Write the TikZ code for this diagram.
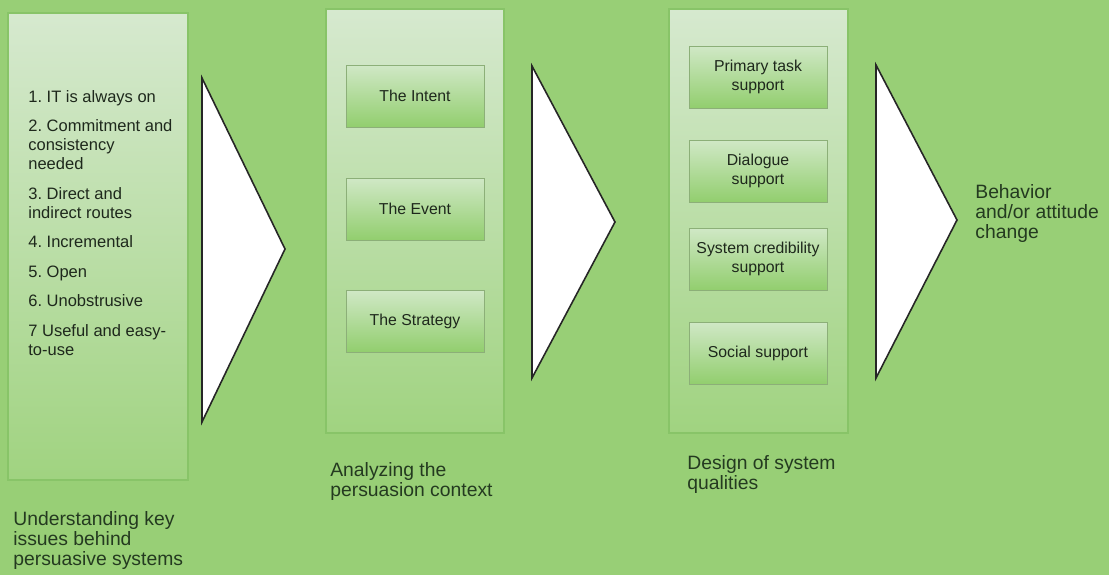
\documentclass[tikz,border=0pt]{standalone}
\usepackage{fontspec}
\setmainfont{Liberation Sans}
\usepackage{tikz}
\usetikzlibrary{positioning}
\definecolor{bggreen}{RGB}{152,207,118}
\definecolor{paneltop}{RGB}{214,233,207}
\definecolor{panelbot}{RGB}{160,211,128}
\definecolor{panelline}{RGB}{136,196,104}
\definecolor{boxtop}{RGB}{208,232,198}
\definecolor{boxbot}{RGB}{146,206,110}
\definecolor{boxline}{RGB}{140,175,120}
\definecolor{txt}{RGB}{36,58,32}
\definecolor{boxtxt}{RGB}{30,40,28}
\frenchspacing

\begin{document}
\begin{tikzpicture}[x=0.02cm, y=-0.02cm,
  panel/.style={draw=panelline, line width=0.6pt, top color=paneltop, bottom color=panelbot},
  stage/.style={draw=boxline, line width=0.5pt, top color=boxtop, bottom color=boxbot,
                minimum width=2.76cm, minimum height=1.24cm, inner sep=1pt,
                align=center, font=\fontsize{9}{10.4}\selectfont, text=boxtxt},
  wedge/.style={draw=black!85, line width=0.9pt, fill=white, line join=miter},
  label/.style={font=\fontsize{11}{11.4}\selectfont, align=left, text=txt, anchor=north west, inner sep=0pt}
]

% background
\fill[bggreen] (0,0) rectangle (1109,575);
\useasboundingbox (0,0) rectangle (1109,575);

% --- Stage 1: key issues ---
\draw[panel] (8,13) rectangle (188,480);
\node[anchor=north west, inner sep=0pt, align=left, text=boxtxt,
      font=\fontsize{9.4}{10.8}\selectfont] (issues) at (28,90)
  {1. IT is always on\\[6pt]
   2. Commitment and\\consistency\\needed\\[6pt]
   3. Direct and\\indirect routes\\[6pt]
   4. Incremental\\[6pt]
   5. Open\\[6pt]
   6. Unobstrusive\\[6pt]
   7 Useful and easy-\\to-use};
\draw[wedge] (202,78) -- (285,249) -- (202,422) -- cycle;
\node[label] (lab1) at (13,511) {Understanding key\\issues behind\\persuasive systems};

% --- Stage 2: persuasion context ---
\draw[panel] (326,9) rectangle (504,433);
\node[stage] (intent) at (415,96) {The Intent};
\node[stage] (event) at (415,209) {The Event};
\node[stage] (strategy) at (415,321) {The Strategy};
\draw[wedge] (532,66) -- (615,222) -- (532,378) -- cycle;
\node[label] (lab2) at (330,462) {Analyzing the\\persuasion context};

% --- Stage 3: system qualities ---
\draw[panel] (669,9) rectangle (848,433);
\node[stage] (primary) at (758,77) {Primary task\\support};
\node[stage] (dialogue) at (758,171) {Dialogue\\support};
\node[stage] (cred) at (758,259) {System credibility\\support};
\node[stage] (social) at (758,353) {Social support};
\draw[wedge] (876,65) -- (957,220) -- (876,378) -- cycle;
\node[label] (lab3) at (687,455) {Design of system\\qualities};

% --- Outcome ---
\node[label] (change) at (975,184) {Behavior\\and/or attitude\\change};

\end{tikzpicture}
\end{document}
